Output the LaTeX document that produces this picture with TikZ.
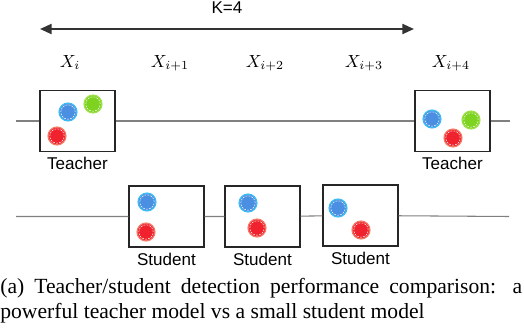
\documentclass[tikz,border=0pt]{standalone}
\usepackage{amsmath}
\usepackage{fontspec}
\setmainfont{Liberation Serif}
\setsansfont{Liberation Sans}
\usetikzlibrary{arrows.meta, positioning}
\definecolor{dotblue}{HTML}{4A8FE2}
\definecolor{dotbluering}{HTML}{3FBDF2}
\definecolor{dotgreen}{HTML}{7ED321}
\definecolor{dotgreenring}{HTML}{9EE04A}
\definecolor{dotred}{HTML}{F0222E}
\definecolor{dotredring}{HTML}{F27A66}
% one detection: filled dot, light ring, dashed white inner ring
\newcommand{\blob}[3]{%
	\fill[#3, draw=#3ring, line width=0.7pt] (#1,#2) circle[radius=5.1pt];
	\draw[white, line width=0.3pt, dash pattern=on 1pt off 0.7pt] (#1,#2) circle[radius=4.1pt];
}
\tikzset{
	tri/.tip={Triangle[length=6.6pt, width=5.7pt]},
	frame/.style={draw=black!85, line width=0.7pt, minimum width=1.5cm, minimum height=1.22cm, inner sep=0},
	track/.style={draw=black!50, line width=0.6pt},
	tag/.style={font=\sffamily\fontsize{9.7}{11}\selectfont, inner sep=0}
}

\begin{document}
\begin{tikzpicture}[x=0.02cm, y=-0.02cm]
		\useasboundingbox (0,0) rectangle (524,328);
		
		% Window of K frames
		\coordinate (A) at (40,29);
		\coordinate (B) at (414,29);
		\draw[tri-tri, draw=black!80, line width=1.1pt] (A) -- (B) node[tag, midway, above=8pt] (K) {K=4};
		
		% Frame labels
		\foreach \x/\s [count=\n] in {70/i, 170/i+1, 265/i+2, 364/i+3, 451/i+4}{
			\node[anchor=base, inner sep=0] (X\n) at (\x,67) {$X_{\s}$};
		}
		
		% Teacher timeline
		\node[frame] (T1) at (77.5,121) {};
		\node[frame] (T2) at (452.5,121) {};
		\coordinate (L1) at (16,121);
		\coordinate (R1) at (510,121);
		\draw[track] (L1) -- (T1) -- (T2) -- (R1);
		\node[tag, below=2.8pt of T1] (t1) {Teacher};
		\node[tag, below=2.8pt of T2] (t2) {Teacher};
		
		% Student timeline
		\node[frame] (S1) at (166.5,216.5) {};
		\node[frame] (S2) at (262.5,216.5) {};
		\node[frame] (S3) at (360.5,215.5) {};
		\coordinate (L2) at (16,216.5);
		\coordinate (R2) at (509,216.5);
		\draw[track] (L2) -- (S1) -- (S2) -- (S3) -- (R2);
		\foreach \b in {1,2,3}{\node[tag, below=3pt of S\b] (s\b) {Student};}
		
		% Detections
		\foreach \x/\y/\c in {68/112/dotblue, 93/104/dotgreen, 57/136/dotred,
			432/119/dotblue, 471/120/dotgreen, 453/138/dotred,
			147/202/dotblue, 146/232/dotred, 248/203/dotblue, 257/228/dotred,
			338/208/dotblue, 361/230/dotred}{\blob{\x}{\y}{\c}}
		
		% Caption
		\node[anchor=north west, inner sep=0, text width=297pt, align=justify,
			font=\fontsize{12.3}{14.2}\selectfont] (cap) at (0,278)
			{(a) Teacher/student detection performance comparison: a powerful teacher model vs a small student model};
	\end{tikzpicture}
\end{document}
